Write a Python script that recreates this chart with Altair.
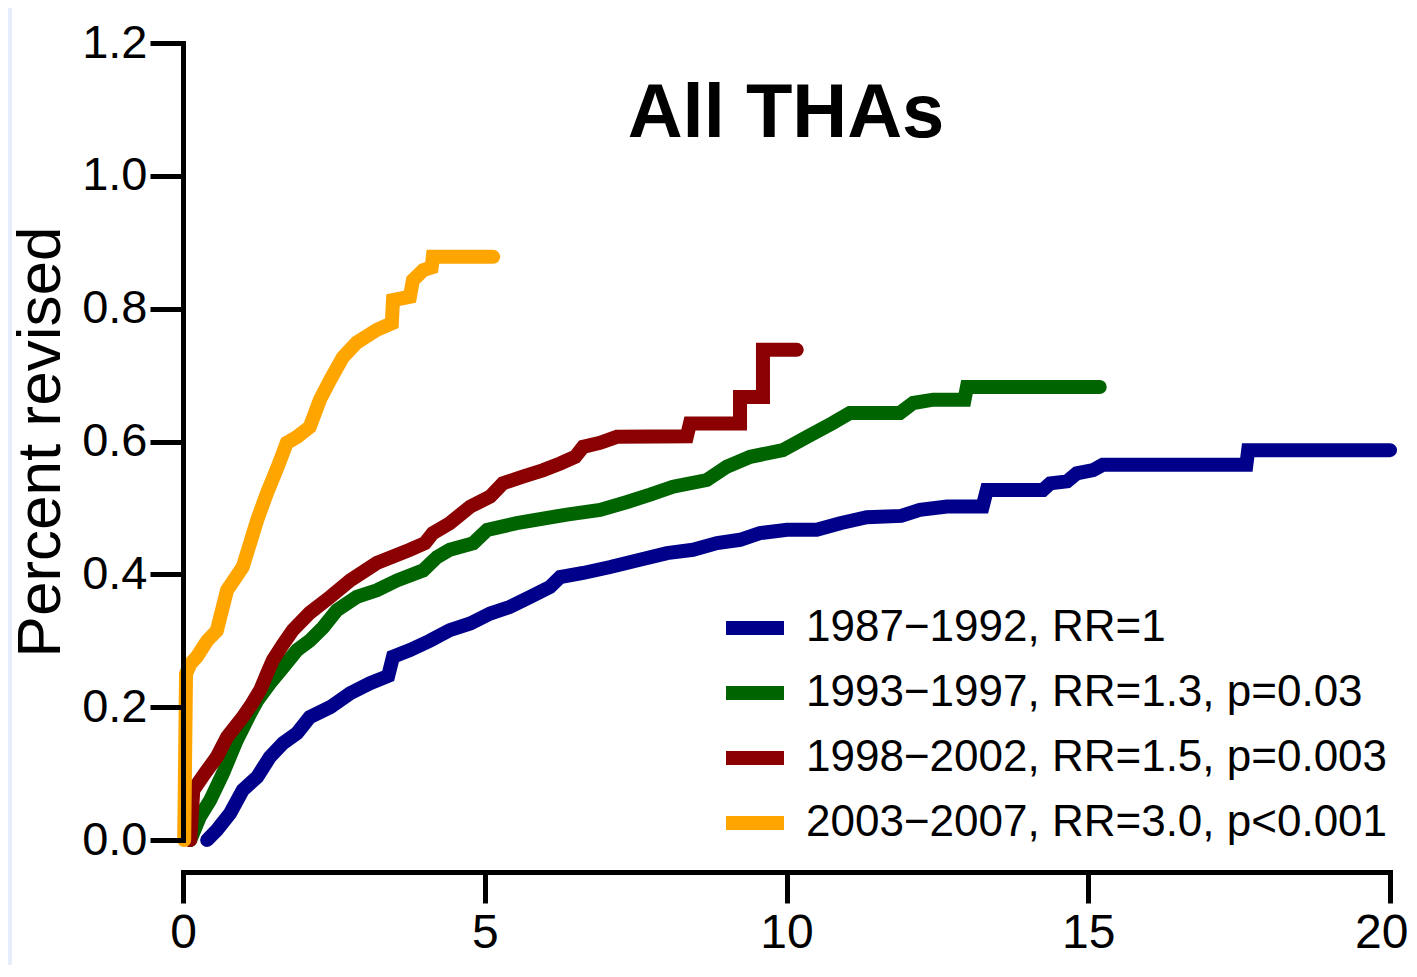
import altair as alt
import pandas as pd

# ---- data ----
series_labels = ["1987\u22121992, RR=1",
                 "1993\u22121997, RR=1.3, p=0.03",
                 "1998\u22122002, RR=1.5, p=0.003",
                 "2003\u22122007, RR=3.0, p<0.001"]
series_colors = ["#00008B", "#006400", "#8B0000", "#FFA500"]

blue_x = [0.40, 0.56, 0.78, 0.99, 1.23, 1.44, 1.66, 1.89, 2.10, 2.44, 2.77, 3.10, 3.40, 3.48,
          3.76, 4.09, 4.42, 4.76, 5.09, 5.42, 5.75, 6.08, 6.25, 6.63, 7.08, 7.57, 8.02, 8.45,
          8.85, 9.23, 9.56, 10.01, 10.50, 10.89, 11.33, 11.90, 12.21, 12.66, 13.25, 13.32,
          14.25, 14.37, 14.65, 14.81, 15.08, 15.24, 17.62, 17.65, 20.0]
blue_y = [0.0, 0.015, 0.04, 0.075, 0.095, 0.125, 0.146, 0.161, 0.185, 0.20, 0.221, 0.236, 0.247,
          0.276, 0.286, 0.30, 0.316, 0.326, 0.341, 0.351, 0.366, 0.381, 0.396, 0.402, 0.411,
          0.422, 0.432, 0.437, 0.447, 0.452, 0.462, 0.467, 0.467, 0.477, 0.486, 0.488, 0.497,
          0.502, 0.502, 0.527, 0.527, 0.537, 0.540, 0.552, 0.557, 0.565, 0.565, 0.587, 0.587]

green_x = [0.12, 0.28, 0.45, 0.66, 0.89, 1.11, 1.23, 1.44, 1.66, 1.89, 2.10, 2.32, 2.55, 2.88,
           3.21, 3.55, 3.98, 4.21, 4.42, 4.81, 5.04, 5.53, 6.36, 6.91, 7.36, 7.74, 8.12, 8.68,
           9.01, 9.40, 9.94, 10.34, 10.77, 11.05, 11.88, 12.10, 12.43, 12.95, 12.99, 15.19]
green_y = [0.0, 0.035, 0.06, 0.10, 0.15, 0.19, 0.21, 0.236, 0.26, 0.286, 0.30, 0.32, 0.346,
           0.366, 0.376, 0.391, 0.406, 0.426, 0.437, 0.447, 0.467, 0.477, 0.49, 0.497, 0.509,
           0.52, 0.532, 0.542, 0.562, 0.577, 0.587, 0.607, 0.628, 0.643, 0.643, 0.658, 0.663,
           0.663, 0.682, 0.682]

red_x = [0.12, 0.17, 0.36, 0.56, 0.73, 0.99, 1.14, 1.28, 1.39, 1.49, 1.66, 1.82, 2.10, 2.44,
         2.77, 3.21, 3.48, 3.76, 4.01, 4.14, 4.42, 4.76, 5.09, 5.30, 5.63, 5.97, 6.25, 6.50,
         6.63, 6.91, 7.19, 8.35, 8.40, 9.23, 9.23, 9.61, 9.61, 10.17]
red_y = [0.0, 0.075, 0.10, 0.125, 0.155, 0.185, 0.205, 0.226, 0.25, 0.271, 0.295, 0.316, 0.342,
         0.366, 0.391, 0.417, 0.427, 0.437, 0.447, 0.462, 0.477, 0.502, 0.517, 0.537, 0.547,
         0.557, 0.567, 0.577, 0.592, 0.598, 0.607, 0.608, 0.627, 0.627, 0.667, 0.667, 0.738,
         0.738]

orange_x = [0.02, 0.05, 0.12, 0.23, 0.40, 0.56, 0.73, 0.99, 1.23, 1.39, 1.57, 1.72, 1.89, 2.10,
            2.27, 2.44, 2.65, 2.88, 3.21, 3.46, 3.48, 3.76, 3.81, 3.98, 4.12, 4.14, 5.14]
orange_y = [0.0, 0.25, 0.265, 0.276, 0.30, 0.315, 0.376, 0.411, 0.482, 0.522, 0.562, 0.598,
            0.607, 0.622, 0.663, 0.693, 0.727, 0.749, 0.768, 0.778, 0.813, 0.818, 0.843, 0.858,
            0.862, 0.878, 0.878]

title_text = ["All THAs"]
y_ticks = [0.0, 0.2, 0.4, 0.6, 0.8, 1.0, 1.2]
x_ticks = [0, 5, 10, 15, 20]

rows = []
for lab, xs, ys in zip(series_labels,
                       [blue_x, green_x, red_x, orange_x],
                       [blue_y, green_y, red_y, orange_y]):
    for i, (xv, yv) in enumerate(zip(xs, ys)):
        rows.append({"years": xv, "revised": yv, "group": lab, "idx": i})
df = pd.DataFrame(rows)

FONT = "Liberation Sans"

panel = alt.Chart(pd.DataFrame({"a": [0]})).mark_rect(color="white").encode(
    x=alt.value(-171), x2=alt.value(1240), y=alt.value(-35), y2=alt.value(940)
)

lines = alt.Chart(df).mark_line(
    interpolate="linear", strokeWidth=14, strokeCap="round", strokeJoin="miter"
).encode(
    x=alt.X("years:Q",
            scale=alt.Scale(domain=[0, 20], nice=False, zero=False),
            axis=alt.Axis(values=x_ticks, format="d", offset=32, tickSize=31, tickWidth=5,
                          domainWidth=5, domainColor="black", tickColor="black",
                          labelFont=FONT, labelFontSize=48, labelColor="black",
                          labelPadding=6, grid=False, title=None, domainCap="square",
                          labelFlush=False, zindex=1,
                          labelAlign=alt.expr("datum.value == 20 ? 'right' : 'center'"),
                          labelOffset=alt.expr("datum.value == 20 ? 18 : 0"))),
    y=alt.Y("revised:Q",
            scale=alt.Scale(domain=[0, 1.2], nice=False),
            axis=alt.Axis(values=y_ticks, format=".1f", tickSize=33, tickWidth=5,
                          domainWidth=5, domainColor="black", tickColor="black",
                          labelFont=FONT, labelFontSize=47, labelColor="black",
                          labelPadding=3, grid=False, domainCap="square",
                          title="Percent revised", titleFont=FONT, titleFontSize=62,
                          titleFontWeight="normal", titleColor="black", titlePadding=9,
                          zindex=1)),
    color=alt.Color("group:N",
                    scale=alt.Scale(domain=series_labels, range=series_colors),
                    sort=series_labels,
                    legend=alt.Legend(orient="none", legendX=536, legendY=549, title=None,
                                      symbolType="stroke", symbolStrokeWidth=14,
                                      symbolSize=3364, labelFont=FONT, labelFontSize=44,
                                      labelColor="black", rowPadding=1, labelOffset=15,
                                      labelLimit=0, padding=0, zindex=1)),
    order=alt.Order("idx:Q"),
)

title = alt.Chart(pd.DataFrame({"t": title_text})).mark_text(
    font=FONT, fontSize=76, fontWeight="bold", align="center", baseline="alphabetic",
    color="black"
).encode(x=alt.value(603), y=alt.value(94), text="t:N")

chart = alt.layer(panel, lines, title).properties(
    width=1207, height=797,
    autosize=alt.AutoSizeParams(type="none"),
    padding={"left": 175, "top": 35, "right": 19, "bottom": 125},
    background="#e6eefc",
).configure_view(stroke=None)

chart.save("out.html", embed_options={"renderer": "svg", "actions": False})
